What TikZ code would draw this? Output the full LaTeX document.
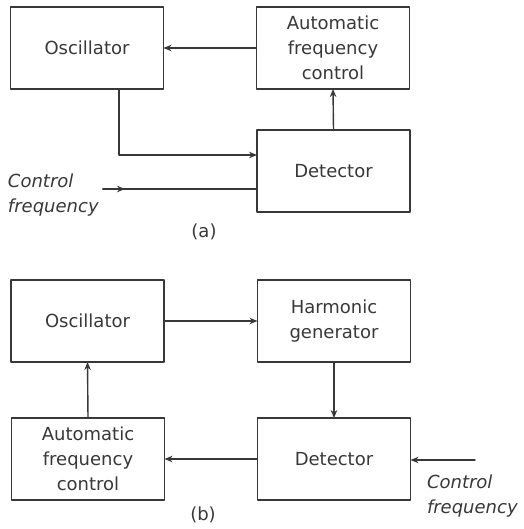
\documentclass[tikz,border=0pt]{standalone}
\usepackage{fontspec}
\setmainfont{DejaVu Sans}
\usetikzlibrary{arrows.meta,calc}
\definecolor{LoopInk}{gray}{0.22}
\tikzset{
    loop/diagram/.style={
        x=1pt, y=-1pt,
        font=\fontsize{18}{25}\selectfont,
        draw=LoopInk,
        text=LoopInk,
        line width=1.3pt,
        line cap=round,
        line join=round,
        every node/.style={inner sep=2pt, outer sep=0pt}
    },
    loop/block/.style={
        draw=LoopInk, line width=1.2pt, align=center,
        minimum width=153pt, minimum height=82pt
    },
    loop/signal/.style={
        draw=LoopInk, line width=1.4pt,
        -{Stealth[length=8pt, width=6.5pt]}
    },
    loop/wire/.style={draw=LoopInk, line width=1.4pt},
    loop/input/.style={align=left, anchor=west, font=\fontsize{18}{25}\selectfont\itshape},
    loop/caption/.style={font=\fontsize{18}{22}\selectfont}
}
\begin{document}
\begin{tikzpicture}[loop/diagram]
    \useasboundingbox (0,0) rectangle (523,529);
    % (a) control loop
    \begin{scope}
        \node[loop/block] (oscA) at (87,48) {Oscillator};
        \node[loop/block] (afcA) at (333,48) {Automatic\\frequency\\control};
        \node[loop/block] (detA) at (333.5,171) {Detector};
        \coordinate (cfA) at (103,189);
        \draw[loop/signal] (afcA.west) -- (oscA.east);
        \draw[loop/signal] (detA.north) -- (afcA.south);
        \draw[loop/signal] ([xshift=32pt]oscA.south) |- ([yshift=16pt]detA.west);
        \draw[loop/wire] (cfA) -- ([yshift=-18pt]detA.west);
        \draw[loop/signal] (cfA) -- ++(22,0);
        \node[loop/input] (cfTextA) at (6,195) {Control\\frequency};
        \node[loop/caption] (capA) at (204,232) {(a)};
    \end{scope}
    % (b) harmonic loop
    \begin{scope}[shift={(0,260)}]
        \node[loop/block] (oscB) at (87.5,61) {Oscillator};
        \node[loop/block] (harmB) at (334,61) {Harmonic\\generator};
        \node[loop/block] (afcB) at (88,199) {Automatic\\frequency\\control};
        \node[loop/block] (detB) at (334,199) {Detector};
        \coordinate (cfB) at (475,200);
        \draw[loop/signal] (oscB.east) -- (harmB.west);
        \draw[loop/signal] (harmB.south) -- (detB.north);
        \draw[loop/signal] (afcB.north) -- (oscB.south);
        \draw[loop/signal] (detB.west) -- (afcB.east);
        \draw[loop/signal] (cfB) -- (cfB -| detB.east);
        \node[loop/input] (cfTextB) at (425,236) {Control\\frequency};
        \node[loop/caption] (capB) at (203,255) {(b)};
    \end{scope}
\end{tikzpicture}
\end{document}
